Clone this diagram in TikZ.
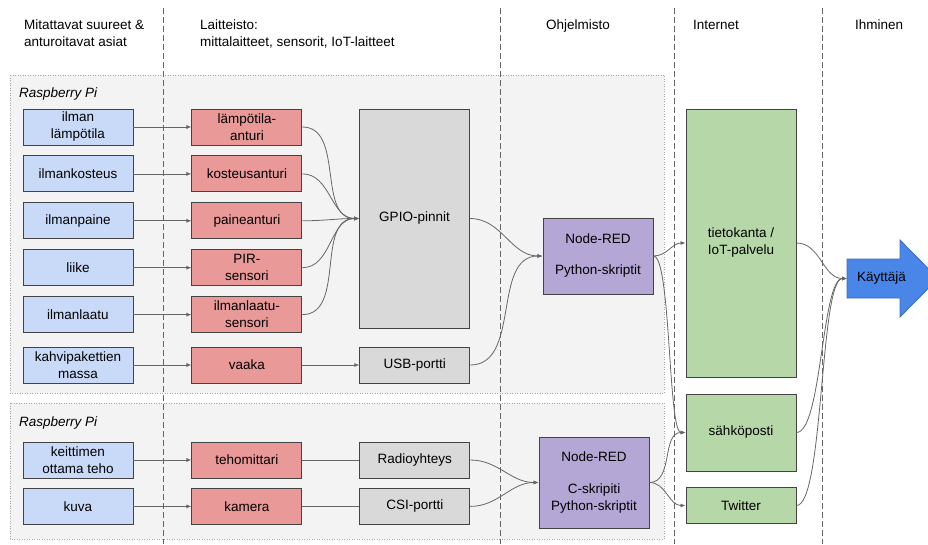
\documentclass[tikz,border=0pt]{standalone}
\usepackage{fontspec}
\setmainfont{Liberation Sans}
\usetikzlibrary{positioning, arrows.meta}
\definecolor{qblue}{HTML}{C9DAF8}
\definecolor{sred}{HTML}{EA9999}
\definecolor{pgray}{HTML}{D9D9D9}
\definecolor{swpurple}{HTML}{B4A7D6}
\definecolor{netgreen}{HTML}{B6D7A8}
\definecolor{userblue}{HTML}{4A86E8}
\definecolor{lngray}{HTML}{666666}
\definecolor{bordergray}{HTML}{434343}
\definecolor{grpfill}{HTML}{F3F3F3}

\begin{document}
\begin{tikzpicture}[x=1pt, y=-1pt, font=\fontsize{13.5}{17}\selectfont,
      b/.style={draw=bordergray, line width=0.9pt, minimum width=110pt, minimum height=36pt, align=center, inner sep=2pt},
      qty/.style={b, fill=qblue}, sens/.style={b, fill=sred}, port/.style={b, fill=pgray},
      soft/.style={b, fill=swpurple}, net/.style={b, fill=netgreen},
      ln/.style={draw=lngray, line width=0.8pt},
      arr/.style={ln, -{Latex[length=5pt,width=4pt]}},
      grp/.style={draw=gray!70, dash pattern=on 1pt off 1.5pt, fill=grpfill},
      col/.style={draw=lngray, dash pattern=on 6pt off 3pt, line width=0.8pt},
      head/.style={anchor=north west, align=left, inner sep=0}]
    \useasboundingbox (0,0) rectangle (928,544);
    % Raspberry Pi groups and columns
    \draw[grp] (10,75) rectangle (664,393);
    \draw[grp] (10,403) rectangle (664,539);
    \foreach \x in {163,500,674,822} \draw[col] (\x,8) -- (\x,544);
    \node[head] (h1) at (24,20) {Mitattavat suureet \&\\anturoitavat asiat};
    \node[head] (h2) at (200,20) {Laitteisto:\\mittalaitteet, sensorit, IoT-laitteet};
    \node[head, anchor=north] (h3) at (578,20) {Ohjelmisto};
    \node[head] (h4) at (693,20) {Internet};
    \node[head] (h5) at (855,20) {Ihminen};
    \node[anchor=base west, inner sep=0, font=\fontsize{13.5}{17}\selectfont\itshape] (rp1) at (19,97) {Raspberry Pi};
    \node[anchor=base west, inner sep=0, font=\fontsize{13.5}{17}\selectfont\itshape] (rp2) at (19,426) {Raspberry Pi};
    % suureet
    \node[qty] (t1) at (78,127) {ilman\\lämpötila};
    \node[qty, below=10pt of t1] (t2) {ilmankosteus};
    \node[qty, below=10pt of t2] (t3) {ilmanpaine};
    \node[qty, below=10pt of t3] (t4) {liike};
    \node[qty, below=10pt of t4] (t5) {ilmanlaatu};
    \node[qty, below=13.5pt of t5] (t6) {kahvipakettien\\massa};
    \node[qty] (t7) at (78,460) {keittimen\\ottama teho};
    \node[qty, below=9.5pt of t7] (t8) {kuva};
    % laitteet
    \node[sens, right=58pt of t1] (r1) {lämpötila-\\anturi};
    \node[sens, right=58pt of t2] (r2) {kosteusanturi};
    \node[sens, right=58pt of t3] (r3) {paineanturi};
    \node[sens, right=58pt of t4] (r4) {PIR-\\sensori};
    \node[sens, right=58pt of t5] (r5) {ilmanlaatu-\\sensori};
    \node[sens, right=58pt of t6] (r6) {vaaka};
    \node[sens, right=58pt of t7] (r7) {tehomittari};
    \node[sens, right=58pt of t8] (r8) {kamera};
    \node[port, minimum height=219pt] (gpio) at (414.5,218.5) {GPIO-pinnit};
    \node[port, right=57pt of r6] (usb) {USB-portti};
    \node[port, right=57pt of r7] (radio) {Radioyhteys};
    \node[port, right=57pt of r8] (csi) {CSI-portti};
    % ohjelmisto
    \node[soft, minimum height=76pt] (nr1) at (598,256) {Node-RED\\[14pt]Python-skriptit};
    \node[soft, minimum height=91pt] (nr2) at (594,482.5) {Node-RED\\[15pt]C-skripiti\\Python-skriptit};
    % internet
    \node[net, minimum height=268pt] (db) at (741,243) {tietokanta /\\IoT-palvelu};
    \node[net, minimum height=77pt] (mail) at (741,432.5) {sähköposti};
    \node[net] (tw) at (741,505.5) {Twitter};
    % ihminen
    \filldraw[fill=userblue, draw=userblue!80!black, line width=0.8pt]
      (847,259) -- (900,259) -- (900,240) -- (938,278.5) -- (900,317) -- (900,298) -- (847,298) -- cycle;
    \node[anchor=west, inner xsep=10pt, inner ysep=0] (user) at (847,278.5) {Käyttäjä};
    % yhteydet
    \foreach \i in {1,...,8} \draw[arr] (t\i) -- (r\i);
    \foreach \i in {1,...,5} \draw[arr] (r\i.east) to[out=0,in=180] (gpio.west);
    \draw[arr] (r6) -- (usb);
    \draw[ln] (r7) -- (radio); \draw[ln] (r8) -- (csi);
    \draw[arr] (gpio.east) to[out=0,in=180] (nr1.west);
    \draw[arr] (usb.east) to[out=0,in=180] (nr1.west);
    \draw[arr] (radio.east) to[out=0,in=180] (nr2.west);
    \draw[arr] (csi.east) to[out=0,in=180] (nr2.west);
    \draw[arr] (nr1.east) to[out=0,in=180] (db.west);
    \draw[arr] (nr1.east) to[out=0,in=180,looseness=0.25] (mail.west);
    \draw[arr] (nr2.east) to[out=0,in=180] (mail.west);
    \draw[arr] (nr2.east) to[out=0,in=180] (tw.west);
    \draw[arr] (db.east) to[out=0,in=180] (user.west);
    \draw[arr] (mail.east) to[out=0,in=180,looseness=0.4] (user.west);
    \draw[arr] (tw.east) to[out=0,in=180,looseness=0.3] (user.west);
  \end{tikzpicture}
\end{document}
